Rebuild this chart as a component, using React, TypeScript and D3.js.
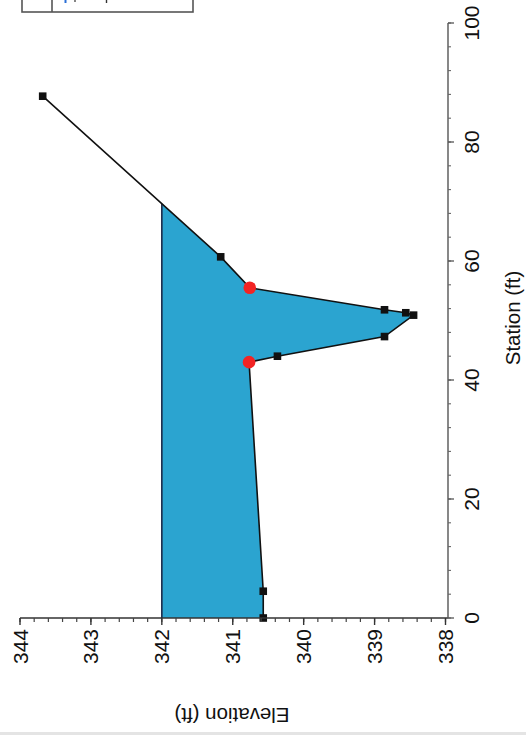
import React from "react";
import * as d3 from "d3";

// Cross-section survey (chart is shown rotated: station runs upward, elevation runs leftward)
const station = [0, 4.5, 43.0, 44.0, 47.3, 50.9, 51.3, 51.8, 55.5, 60.7, 87.7];
const elevation = [340.57, 340.57, 340.77, 340.37, 338.86, 338.45, 338.56, 338.86, 340.76, 341.17, 343.68];
const pointKind = ["pt", "pt", "bankfull", "pt", "pt", "pt", "pt", "pt", "bankfull", "pt", "pt"];
const waterSurface = 342;
const elevationTicks = [344, 343, 342, 341, 340, 339, 338];
const stationTicks = [0, 20, 40, 60, 80, 100];

const W = 526;
const H = 736;

export default function App() {
  const xE = d3.scaleLinear().domain([344, 338]).range([20, 445.5]);
  const yS = d3.scaleLinear().domain([0, 100]).range([618, 23]);

  const pts = station.map((s, i) => ({ s, e: elevation[i], k: pointKind[i] }));

  // station where ground rises through the water surface
  let sEnd = station[station.length - 1];
  for (let i = 1; i < pts.length; i++) {
    const a = pts[i - 1];
    const b = pts[i];
    if (a.e < waterSurface && b.e >= waterSurface) {
      sEnd = a.s + ((waterSurface - a.e) / (b.e - a.e)) * (b.s - a.s);
      break;
    }
  }
  const wetGround = pts.filter((p) => p.s <= sEnd && p.e <= waterSurface);
  const waterPoly: [number, number][] = [
    [waterSurface, 0],
    [waterSurface, sEnd],
    ...wetGround
      .slice()
      .reverse()
      .map((p) => [p.e, p.s] as [number, number]),
  ];
  const polyPath =
    d3.line<[number, number]>()
      .x((d) => xE(d[0]))
      .y((d) => yS(d[1]))(waterPoly) + "Z";

  const groundPath = d3
    .line<{ s: number; e: number }>()
    .x((d) => xE(d.e))
    .y((d) => yS(d.s))(pts);

  const waterLine = d3
    .line<[number, number]>()
    .x((d) => xE(d[0]))
    .y((d) => yS(d[1]))([
      [waterSurface, 0],
      [waterSurface, sEnd],
    ]);

  const elevMinor = d3.range(338, 344.0001, 0.2).map((v) => +v.toFixed(1));
  const statMinor = d3.range(0, 100.0001, 4);

  const axisY = yS(0);
  const axisX = 448;
  const font = "'Liberation Sans', Arial, Helvetica, sans-serif";

  return (
    <div style={{ position: "fixed", left: 0, top: 0 }}>
      <svg width={W} height={H} style={{ display: "block", background: "#fff" }}>
        {/* legend box (cut off at top of the page) */}
        <g>
          <rect x={22} y={-40} width={171} height={52} fill="#fff" stroke="#555" strokeWidth={1.6} />
          <line x1={52} y1={-40} x2={52} y2={12} stroke="#555" strokeWidth={1.6} />
          <line x1={65.5} y1={-4} x2={65.5} y2={3} stroke="#2a6fd6" strokeWidth={2} />
          <line x1={75} y1={-4} x2={75} y2={2} stroke="#333" strokeWidth={1.2} />
          <line x1={106.5} y1={-4} x2={106.5} y2={3} stroke="#333" strokeWidth={1.4} />
        </g>

        {/* water fill */}
        <path d={polyPath} fill="#2ba4d0" stroke="none" />
        <path d={waterLine || ""} fill="none" stroke="#1b2a4a" strokeWidth={1.6} />

        {/* ground line */}
        <path d={groundPath || ""} fill="none" stroke="#111" strokeWidth={1.6} />

        {/* points */}
        {pts.map((p, i) =>
          p.k === "bankfull" ? (
            <circle key={i} cx={xE(p.e)} cy={yS(p.s)} r={6.3} fill="#f22424" />
          ) : (
            <rect key={i} x={xE(p.e) - 3.8} y={yS(p.s) - 3.8} width={7.6} height={7.6} fill="#111" />
          )
        )}

        {/* elevation axis (bottom) */}
        <line x1={xE(344)} y1={axisY} x2={axisX} y2={axisY} stroke="#333" strokeWidth={1.4} />
        {elevMinor.map((v) => (
          <line key={"em" + v} x1={xE(v)} x2={xE(v)} y1={axisY} y2={axisY + 4} stroke="#444" strokeWidth={1.2} />
        ))}
        {elevationTicks.map((v) => (
          <g key={"e" + v}>
            <line x1={xE(v)} x2={xE(v)} y1={axisY} y2={axisY + 7} stroke="#333" strokeWidth={1.4} />
            <text
              transform={`translate(${xE(v)}, ${axisY + 11}) rotate(-90)`}
              textAnchor="end"
              dy="0.36em"
              fontFamily={font}
              fontSize={21}
              fill="#111"
            >
              {v}
            </text>
          </g>
        ))}
        <text
          transform={`translate(232, 715) rotate(180)`}
          textAnchor="middle"
          dy="0.36em"
          fontFamily={font}
          fontSize={20.5}
          fill="#111"
        >
          Elevation (ft)
        </text>

        {/* station axis (right) */}
        <line x1={axisX} y1={yS(0)} x2={axisX} y2={yS(100)} stroke="#555" strokeWidth={1.4} />
        {statMinor.map((v) => (
          <line key={"sm" + v} x1={axisX} x2={axisX + 3} y1={yS(v)} y2={yS(v)} stroke="#666" strokeWidth={1.1} />
        ))}
        {stationTicks.map((v) => (
          <g key={"s" + v}>
            <line x1={axisX} x2={axisX + 6} y1={yS(v)} y2={yS(v)} stroke="#555" strokeWidth={1.3} />
            <text
              transform={`translate(471, ${yS(v)}) rotate(-90)`}
              textAnchor="middle"
              dy="0.36em"
              fontFamily={font}
              fontSize={21}
              fill="#111"
            >
              {v}
            </text>
          </g>
        ))}
        <text
          transform={`translate(513, 318) rotate(-90)`}
          textAnchor="middle"
          dy="0.36em"
          fontFamily={font}
          fontSize={20.5}
          fill="#111"
        >
          Station (ft)
        </text>

        {/* scan edge */}
        <line x1={0} x2={W} y1={733.5} y2={733.5} stroke="#e4e4e4" strokeWidth={3} />
      </svg>
    </div>
  );
}
